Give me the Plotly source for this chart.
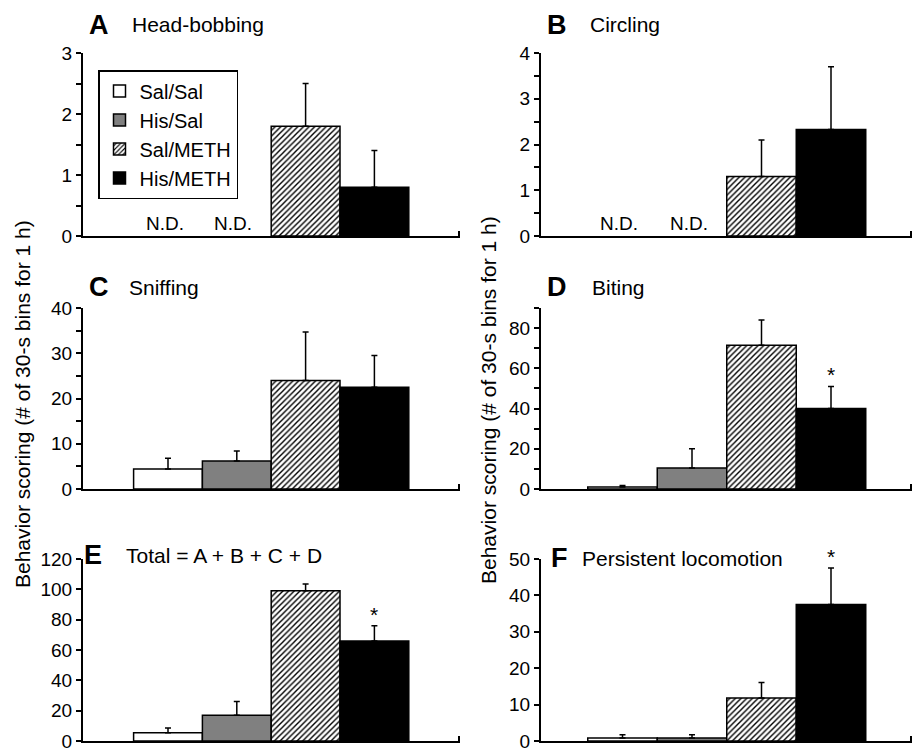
import plotly.graph_objects as go

# ---------------- data ----------------
groups = ["Sal/Sal", "His/Sal", "Sal/METH", "His/METH"]

panel_letters = ["A", "B", "C", "D", "E", "F"]
panel_names = ["Head-bobbing", "Circling", "Sniffing", "Biting",
               "Total = A + B + C + D", "Persistent locomotion"]

head_bobbing_mean = [None, None, 1.8, 0.8]
head_bobbing_sem = [0, 0, 0.7, 0.6]

circling_mean = [None, None, 1.3, 2.33]
circling_sem = [0, 0, 0.8, 1.37]

sniffing_mean = [4.4, 6.2, 24.0, 22.5]
sniffing_sem = [2.4, 2.2, 10.7, 7.0]

biting_mean = [1.0, 10.5, 71.5, 40.0]
biting_sem = [0.8, 9.5, 12.5, 11.0]

total_mean = [5.5, 17.0, 99.0, 66.0]
total_sem = [3.0, 9.0, 4.5, 10.0]

locomotion_mean = [0.8, 0.8, 11.8, 37.5]
locomotion_sem = [0.9, 0.9, 4.3, 10.0]

means = [head_bobbing_mean, circling_mean, sniffing_mean, biting_mean, total_mean, locomotion_mean]
sems = [head_bobbing_sem, circling_sem, sniffing_sem, biting_sem, total_sem, locomotion_sem]

y_max = [3, 4, 40, 90, 120, 50]
y_dtick = [1, 1, 10, 20, 20, 10]
y_minor = [0.5, 0.5, 5, 10, None, None]
significant = [[], [], [], [3], [3], [3]]      # * vs Sal/METH
not_detected = [[0, 1], [0, 1], [], [], [], []]

y_title = "Behavior scoring (# of 30-s bins for 1 h)"

# ---------------- styling / geometry ----------------
W, H = 913, 753
FONT = "Liberation Sans, Arial, Helvetica, sans-serif"
fills = ["#ffffff", "#808080", "#ffffff", "#000000"]
shapes_pat = ["", "", "/", ""]

col_x = [(83, 460), (541, 912)]
col_bar = [(168.0, 68.8), (622.5, 69.5)]   # pixel centre of first bar, pixel per bar
row_y = [(236, 53), (489, 308), (741, 559)]

title_pos = [  # letter x, name x, y centre (pixels)
    (87, 130, 25), (545, 588, 25),
    (87, 127, 287), (545, 590, 287),
    (82, 124, 555), (549, 580, 558),
]


def px(xp):
    return xp / W


def py(yp):
    return 1 - yp / H


fig = go.Figure()
layout = {}
annotations = []

for i in range(6):
    k = i + 1
    col, row = i % 2, i // 2
    x0, x1 = col_x[col]
    c0, u = col_bar[col]
    y0, y1 = row_y[row]
    xr = [(x0 - c0) / u, (x1 - c0) / u]
    xa = "x" if k == 1 else f"x{k}"
    ya = "y" if k == 1 else f"y{k}"

    for j in range(4):
        m = means[i][j]
        fig.add_trace(go.Bar(
            x=[j], y=[m], width=[1],
            name=groups[j], showlegend=(i == 0),
            xaxis=xa, yaxis=ya, hoverinfo="skip",
            marker=dict(color=fills[j], line=dict(color="black", width=1.5),
                        pattern=dict(shape=shapes_pat[j], fgcolor="black",
                                     bgcolor=fills[j], size=4, solidity=0.35)),
            error_y=dict(type="data", symmetric=False, array=[sems[i][j]],
                         arrayminus=[0], color="black", thickness=1.5, width=3,
                         visible=m is not None),
        ))

    layout[f"xaxis{k}" if k > 1 else "xaxis"] = dict(
        domain=[px(x0), px(x1)], range=xr, anchor=ya, automargin=False,
        showline=True, linecolor="black", linewidth=2,
        ticks="inside", tickvals=[xr[1] - 0.02], ticklen=5, tickwidth=1.5,
        tickcolor="black", showticklabels=False, showgrid=False, zeroline=False,
        fixedrange=True,
    )
    yax = dict(
        domain=[py(y0), py(y1)], range=[0, y_max[i]], anchor=xa, automargin=False,
        tick0=0, dtick=y_dtick[i], ticks="outside", ticklen=5, tickwidth=1.5,
        tickcolor="black", showline=True, linecolor="black", linewidth=2,
        showgrid=False, zeroline=False, fixedrange=True,
        ticklabeloverflow="allow",
        tickfont=dict(size=19, color="black", family=FONT),
    )
    if y_minor[i] is not None:
        yax["minor"] = dict(dtick=y_minor[i], tick0=0, ticks="outside", ticklen=5,
                            tickwidth=1.5, tickcolor="black", showgrid=False)
    layout[f"yaxis{k}" if k > 1 else "yaxis"] = yax

    lx, nx, ty = title_pos[i]
    annotations.append(dict(xref="paper", yref="paper", x=px(lx), y=py(ty),
                            xanchor="left", yanchor="middle", showarrow=False,
                            text=f"<b>{panel_letters[i]}</b>",
                            font=dict(size=27, color="black", family=FONT)))
    annotations.append(dict(xref="paper", yref="paper", x=px(nx), y=py(ty),
                            xanchor="left", yanchor="middle", showarrow=False,
                            text=panel_names[i],
                            font=dict(size=21, color="black", family=FONT)))

    for j in not_detected[i]:
        annotations.append(dict(xref=xa, yref=ya, x=j - 0.05, y=0, xanchor="center",
                                yanchor="bottom", showarrow=False, text="N.D.",
                                font=dict(size=19, color="black", family=FONT)))
    for j in significant[i]:
        annotations.append(dict(xref=xa, yref=ya, x=j, y=means[i][j] + sems[i][j],
                                xanchor="center", yanchor="bottom", showarrow=False,
                                text="*", yshift=-2,
                                font=dict(size=21, color="black", family=FONT)))

for xpix, ypix in [(22, 404), (488, 400)]:
    annotations.append(dict(xref="paper", yref="paper", x=px(xpix), y=py(ypix),
                            xanchor="center", yanchor="middle", showarrow=False,
                            textangle=-90, text=y_title,
                            font=dict(size=21, color="black", family=FONT)))

fig.update_layout(
    **layout,
    template="none",
    annotations=annotations,
    width=W, height=H,
    margin=dict(l=0, r=0, t=0, b=0, autoexpand=False),
    paper_bgcolor="white", plot_bgcolor="white",
    barmode="overlay",
    font=dict(family=FONT, color="black", size=19),
    showlegend=True,
    legend=dict(x=px(98), y=py(70), xanchor="left", yanchor="top",
                bordercolor="black", borderwidth=1.5, bgcolor="white",
                font=dict(size=20, color="black", family=FONT),
                traceorder="normal", tracegroupgap=0),
)

fig.write_html("out.html", config={"displayModeBar": False},
               post_script="document.body.style.margin='0';document.body.style.padding='0';")
